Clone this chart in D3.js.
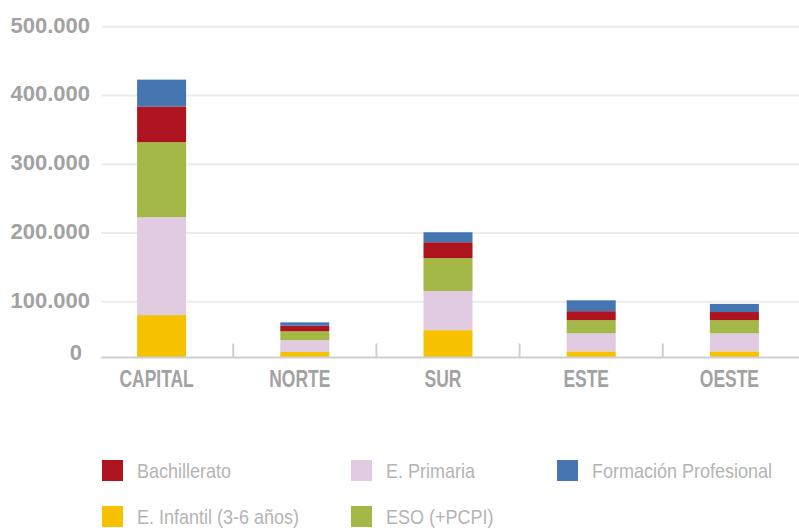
<!DOCTYPE html>
<html lang="es">
<head>
  <meta charset="UTF-8">
  <title>Alumnado por zona</title>
  <script src="https://d3js.org/d3.v7.min.js"></script>
  <style>
    body { margin: 0; background: #fff; }
    svg text { font-family: "Liberation Sans", Arial, sans-serif; }
  </style>
</head>
<body>
  <div id="chart"></div>

  <script>
  // data
  const categories = ["CAPITAL", "NORTE", "SUR", "ESTE", "OESTE"];
  const infantil = [76000, 10000, 49000, 11000, 11000];
  const primaria = [147000, 21000, 66500, 32500, 32500];
  const eso = [109000, 16000, 48000, 23500, 23500];
  const bachillerato = [52000, 10000, 23000, 16000, 14500];
  const fp = [39000, 6000, 14500, 19000, 14500];

  const seriesNames = ["E. Infantil (3-6 años)", "E. Primaria", "ESO (+PCPI)", "Bachillerato", "Formación Profesional"];
  const seriesValues = [infantil, primaria, eso, bachillerato, fp];
  const seriesColors = ["#f6c200", "#e0cbe0", "#a3b846", "#ae1320", "#4576b2"];
  const legendOrder = ["Bachillerato", "E. Primaria", "Formación Profesional", "E. Infantil (3-6 años)", "ESO (+PCPI)"];
  const yTicks = [0, 100000, 200000, 300000, 400000, 500000];

  const W = 799, H = 528;
  const svg = d3.select("#chart").append("svg")
    .attr("width", W).attr("height", H);

  // the axis in the original is not linear below 100.000
  const y = d3.scaleLinear()
    .domain([0, 100000, 500000])
    .range([357.5, 301.7, 26.7]);

  const x = d3.scaleBand()
    .domain(categories)
    .range([90, 806]);

  const barW = 49;
  const fmt = d3.formatLocale({ decimal: ",", thousands: ".", grouping: [3] }).format(",");

  // grid
  svg.append("g").selectAll("line")
    .data(yTicks.filter(d => d > 0))
    .enter().append("line")
    .attr("x1", 101).attr("x2", W)
    .attr("y1", d => y(d)).attr("y2", d => y(d))
    .attr("stroke", "#ececec").attr("stroke-width", 2);

  // y labels
  svg.append("g").selectAll("text")
    .data(yTicks)
    .enter().append("text")
    .attr("x", d => d === 0 ? 82 : 90)
    .attr("y", d => y(d) + (d === 0 ? 2.5 : 6))
    .attr("text-anchor", "end")
    .attr("font-size", 22)
    .attr("font-weight", "bold")
    .attr("fill", "#a2a2a2")
    .text(d => fmt(d));

  // stacked bars
  const rows = categories.map((c, i) => {
    const r = { cat: c };
    seriesNames.forEach((s, j) => r[s] = seriesValues[j][i]);
    return r;
  });
  const stacked = d3.stack().keys(seriesNames)(rows);

  svg.append("g").selectAll("g")
    .data(stacked)
    .enter().append("g")
    .attr("fill", (d, i) => seriesColors[i])
    .selectAll("rect")
    .data(d => d)
    .enter().append("rect")
    .attr("x", d => x(d.data.cat) + x.bandwidth() / 2 - barW / 2)
    .attr("width", barW)
    .attr("y", d => y(d[1]))
    .attr("height", d => y(d[0]) - y(d[1]));

  // baseline + separators
  svg.append("line")
    .attr("x1", 101).attr("x2", W)
    .attr("y1", y(0)).attr("y2", y(0))
    .attr("stroke", "#cfcfcf").attr("stroke-width", 2);

  svg.append("g").selectAll("line")
    .data(categories.slice(1))
    .enter().append("line")
    .attr("x1", d => x(d)).attr("x2", d => x(d))
    .attr("y1", y(0) - 14).attr("y2", y(0))
    .attr("stroke", "#cfcfcf").attr("stroke-width", 2);

  // category labels (condensed look: squeeze horizontally)
  svg.append("g").selectAll("text")
    .data(categories)
    .enter().append("text")
    .attr("transform", d => `translate(${x(d) + x.bandwidth() / 2 - 5},387) scale(0.76,1)`)
    .attr("text-anchor", "middle")
    .attr("font-size", 23)
    .attr("font-weight", "bold")
    .attr("fill", "#a2a2a2")
    .text(d => d);

  // legend
  const legX = [102, 351, 557];
  const legY = [460, 506];
  const leg = svg.append("g").selectAll("g")
    .data(legendOrder)
    .enter().append("g")
    .attr("transform", (d, i) => `translate(${legX[i % 3]},${legY[Math.floor(i / 3)]})`);

  leg.append("rect")
    .attr("width", 21).attr("height", 21)
    .attr("fill", d => seriesColors[seriesNames.indexOf(d)]);

  leg.append("text")
    .attr("transform", "translate(35,17.5) scale(0.9,1)")
    .attr("font-size", 20)
    .attr("fill", "#b4b4b4")
    .text(d => d);
  </script>
</body>
</html>
